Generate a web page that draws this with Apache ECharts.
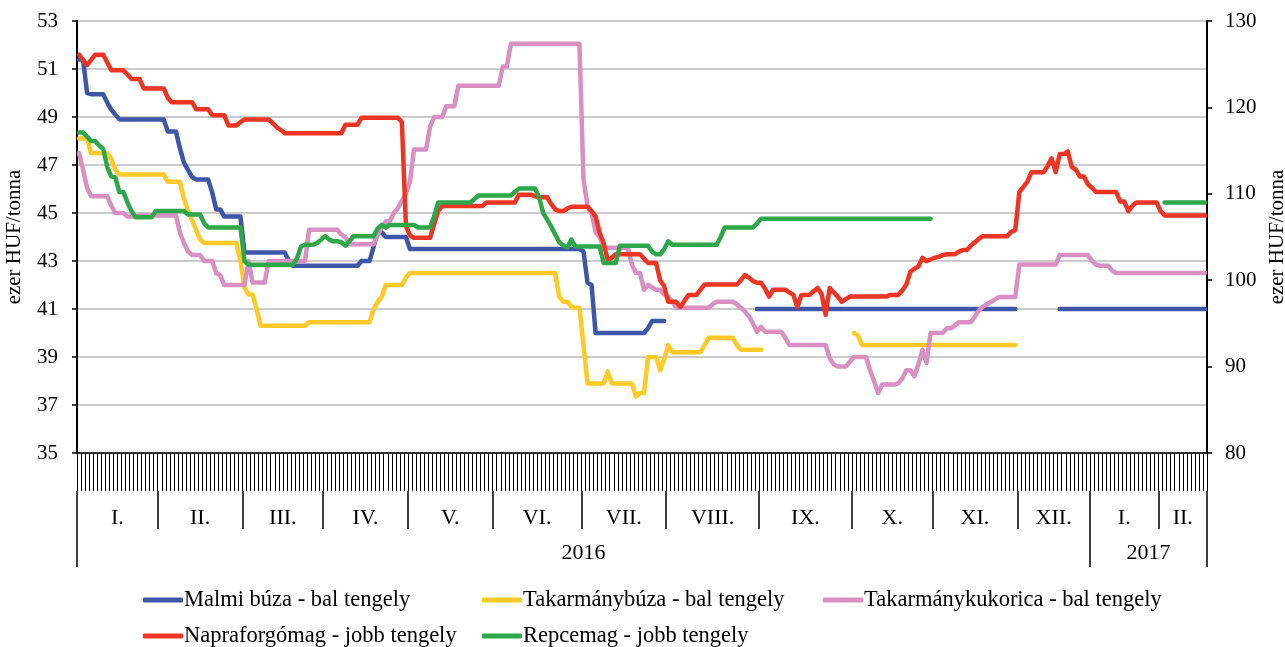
<!DOCTYPE html>
<html>
<head>
<meta charset="utf-8">
<script src="https://cdn.jsdelivr.net/npm/echarts@6/dist/echarts.min.js"></script>
<style>
  html, body { margin: 0; padding: 0; background: #fff; }
  #chart { width: 1285px; height: 647px; }
</style>
</head>
<body>
<div id="chart"></div>
<script>
// trading days per month, Jan 2016 .. Feb 2017
const monthNames = ['I.', 'II.', 'III.', 'IV.', 'V.', 'VI.', 'VII.', 'VIII.', 'IX.', 'X.', 'XI.', 'XII.', 'I.', 'II.'];
const monthDays = [20, 21, 20, 21, 21, 22, 21, 23, 23, 20, 21, 18, 17, 12];
const yearNames = ['2016', '2017'];
const yearMonths = [12, 2];

const leftTicks = { min: 35, max: 53, step: 2 };
const rightTicks = { min: 80, max: 130, step: 10 };

// ezer HUF/tonna, bal tengely
const malmiBuza = [
    51.4, 51.4, 50.0, 49.95, 49.95, 49.95, 49.95, 49.6, 49.3, 49.1, 48.9, 48.9, 48.9, 48.9, 48.9, 48.9, 48.9, 48.9, 48.9, 48.9,
    48.9, 48.9, 48.4, 48.4, 48.4, 47.7, 47.1, 46.8, 46.5, 46.4, 46.4, 46.4, 46.4, 45.85, 45.15, 45.15, 44.85, 44.85, 44.85, 44.85, 44.85,
    43.35, 43.35, 43.35, 43.35, 43.35, 43.35, 43.35, 43.35, 43.35, 43.35, 43.35, 43.0, 42.8, 42.8, 42.8, 42.8, 42.8, 42.8, 42.8, 42.8,
    42.8, 42.8, 42.8, 42.8, 42.8, 42.8, 42.8, 42.8, 42.8, 43.0, 43.0, 43.0, 43.6, 44.2, 44.2, 44.0, 44.0, 44.0, 44.0, 44.0, 44.0,
    43.5, 43.5, 43.5, 43.5, 43.5, 43.5, 43.5, 43.5, 43.5, 43.5, 43.5, 43.5, 43.5, 43.5, 43.5, 43.5, 43.5, 43.5, 43.5, 43.5, 43.5,
    43.5, 43.5, 43.5, 43.5, 43.5, 43.5, 43.5, 43.5, 43.5, 43.5, 43.5, 43.5, 43.5, 43.5, 43.5, 43.5, 43.5, 43.5, 43.5, 43.5, 43.5, 43.5,
    43.4, 42.1, 42.0, 40.0, 40.0, 40.0, 40.0, 40.0, 40.0, 40.0, 40.0, 40.0, 40.0, 40.0, 40.0, 40.0, 40.2, 40.5, 40.5, 40.5, 40.5,
    null, null, null, null, null, null, null, null, null, null, null, null, null, null, null, null, null, null, null, null, null, null, 41.0,
    41.0, 41.0, 41.0, 41.0, 41.0, 41.0, 41.0, 41.0, 41.0, 41.0, 41.0, 41.0, 41.0, 41.0, 41.0, 41.0, 41.0, 41.0, 41.0, 41.0, 41.0, 41.0, 41.0,
    41.0, 41.0, 41.0, 41.0, 41.0, 41.0, 41.0, 41.0, 41.0, 41.0, 41.0, 41.0, 41.0, 41.0, 41.0, 41.0, 41.0, 41.0, 41.0, 41.0,
    41.0, 41.0, 41.0, 41.0, 41.0, 41.0, 41.0, 41.0, 41.0, 41.0, 41.0, 41.0, 41.0, 41.0, 41.0, 41.0, 41.0, 41.0, 41.0, 41.0, 41.0,
    null, null, null, null, null, null, null, null, null, null, 41.0, 41.0, 41.0, 41.0, 41.0, 41.0, 41.0, 41.0,
    41.0, 41.0, 41.0, 41.0, 41.0, 41.0, 41.0, 41.0, 41.0, 41.0, 41.0, 41.0, 41.0, 41.0, 41.0, 41.0, 41.0,
    41.0, 41.0, 41.0, 41.0, 41.0, 41.0, 41.0, 41.0, 41.0, 41.0, 41.0, 41.0
];
const takarmanyBuza = [
    48.1, 48.1, 48.1, 47.5, 47.5, 47.5, 47.5, 47.5, 47.25, 46.8, 46.6, 46.6, 46.6, 46.6, 46.6, 46.6, 46.6, 46.6, 46.6, 46.6,
    46.6, 46.6, 46.3, 46.3, 46.3, 46.3, 45.6, 45.1, 44.7, 44.3, 43.9, 43.75, 43.75, 43.75, 43.75, 43.75, 43.75, 43.75, 43.75, 43.75, 43.0,
    41.9, 41.6, 41.6, 41.0, 40.3, 40.3, 40.3, 40.3, 40.3, 40.3, 40.3, 40.3, 40.3, 40.3, 40.3, 40.3, 40.45, 40.45, 40.45, 40.45,
    40.45, 40.45, 40.45, 40.45, 40.45, 40.45, 40.45, 40.45, 40.45, 40.45, 40.45, 40.45, 41.0, 41.3, 41.5, 42.0, 42.0, 42.0, 42.0, 42.0, 42.3,
    42.5, 42.5, 42.5, 42.5, 42.5, 42.5, 42.5, 42.5, 42.5, 42.5, 42.5, 42.5, 42.5, 42.5, 42.5, 42.5, 42.5, 42.5, 42.5, 42.5, 42.5,
    42.5, 42.5, 42.5, 42.5, 42.5, 42.5, 42.5, 42.5, 42.5, 42.5, 42.5, 42.5, 42.5, 42.5, 42.5, 42.5, 41.5, 41.3, 41.3, 41.1, 41.05, 41.05,
    39.5, 37.9, 37.9, 37.9, 37.9, 37.9, 38.4, 37.9, 37.9, 37.9, 37.9, 37.9, 37.9, 37.35, 37.5, 37.5, 39.0, 39.0, 39.0, 38.45, 38.9,
    39.5, 39.2, 39.2, 39.2, 39.2, 39.2, 39.2, 39.2, 39.2, 39.5, 39.8, 39.8, 39.8, 39.8, 39.8, 39.8, 39.8, 39.5, 39.3, 39.3, 39.3, 39.3, 39.3,
    39.3, null, null, null, null, null, null, null, null, null, null, null, null, null, null, null, null, null, null, null, null, null, null,
    40.0, 39.9, 39.5, 39.5, 39.5, 39.5, 39.5, 39.5, 39.5, 39.5, 39.5, 39.5, 39.5, 39.5, 39.5, 39.5, 39.5, 39.5, 39.5, 39.5,
    39.5, 39.5, 39.5, 39.5, 39.5, 39.5, 39.5, 39.5, 39.5, 39.5, 39.5, 39.5, 39.5, 39.5, 39.5, 39.5, 39.5, 39.5, 39.5, 39.5, 39.5,
    null, null, null, null, null, null, null, null, null, null, null, null, null, null, null, null, null, null,
    null, null, null, null, null, null, null, null, null, null, null, null, null, null, null, null, null,
    null, null, null, null, null, null, null, null, null, null, null, null
];
const takarmanyKukorica = [
    47.5, 46.8, 46.05, 45.7, 45.7, 45.7, 45.7, 45.7, 45.3, 45.0, 45.0, 45.0, 44.85, 44.85, 44.85, 44.9, 44.9, 44.9, 44.9, 44.9,
    44.9, 44.9, 44.9, 44.9, 44.9, 44.2, 43.75, 43.4, 43.25, 43.25, 43.25, 43.0, 43.0, 43.0, 42.5, 42.4, 42.0, 42.0, 42.0, 42.0, 42.0,
    42.0, 43.0, 42.1, 42.1, 42.1, 42.1, 43.0, 43.0, 43.0, 43.0, 43.0, 43.0, 43.0, 43.0, 43.0, 43.0, 44.3, 44.3, 44.3, 44.3,
    44.3, 44.3, 44.3, 44.3, 44.1, 44.0, 43.7, 43.7, 43.7, 43.7, 43.7, 43.7, 43.7, 44.1, 44.4, 44.65, 44.65, 45.0, 45.2, 45.5, 45.8,
    46.3, 47.65, 47.65, 47.65, 47.65, 48.6, 49.0, 49.0, 49.0, 49.45, 49.45, 49.45, 50.3, 50.3, 50.3, 50.3, 50.3, 50.3, 50.3, 50.3, 50.3,
    50.3, 50.3, 51.1, 51.1, 52.05, 52.05, 52.05, 52.05, 52.05, 52.05, 52.05, 52.05, 52.05, 52.05, 52.05, 52.05, 52.05, 52.05, 52.05, 52.05, 52.05, 52.05,
    46.4, 45.3, 45.0, 44.2, 44.0, 43.55, 43.55, 43.55, 43.55, 43.55, 43.55, 43.55, 42.85, 42.5, 42.5, 41.8, 42.0, 41.9, 41.8, 41.8, 41.6,
    41.5, 41.3, 41.05, 41.05, 41.05, 41.05, 41.05, 41.05, 41.05, 41.05, 41.05, 41.2, 41.3, 41.3, 41.3, 41.3, 41.3, 41.2, 41.05, 40.9, 40.7, 40.4, 40.05,
    40.25, 40.05, 40.05, 40.05, 40.05, 40.05, 39.8, 39.5, 39.5, 39.5, 39.5, 39.5, 39.5, 39.5, 39.5, 39.5, 39.5, 38.95, 38.7, 38.6, 38.6, 38.6, 38.8,
    39.0, 39.0, 39.0, 39.0, 38.45, 38.0, 37.5, 37.85, 37.85, 37.85, 37.85, 37.9, 38.1, 38.45, 38.45, 38.2, 38.7, 39.3, 38.75, 40.0,
    40.0, 40.0, 40.0, 40.2, 40.2, 40.3, 40.45, 40.45, 40.45, 40.45, 40.7, 40.95, 41.1, 41.2, 41.3, 41.4, 41.5, 41.5, 41.5, 41.5, 41.5,
    42.85, 42.85, 42.85, 42.85, 42.85, 42.85, 42.85, 42.85, 42.85, 42.85, 43.25, 43.25, 43.25, 43.25, 43.25, 43.25, 43.25, 43.25,
    43.0, 42.85, 42.8, 42.8, 42.8, 42.6, 42.5, 42.5, 42.5, 42.5, 42.5, 42.5, 42.5, 42.5, 42.5, 42.5, 42.5,
    42.5, 42.5, 42.5, 42.5, 42.5, 42.5, 42.5, 42.5, 42.5, 42.5, 42.5, 42.5
];
// ezer HUF/tonna, jobb tengely
const napraforgomag = [
    126.1, 125.5, 124.9, 125.5, 126.1, 126.1, 126.1, 125.2, 124.3, 124.3, 124.3, 124.3, 123.8, 123.3, 123.3, 123.3, 122.2, 122.2, 122.2, 122.2,
    122.2, 122.2, 121.1, 120.6, 120.6, 120.6, 120.6, 120.6, 120.6, 119.8, 119.8, 119.8, 119.8, 119.1, 119.1, 119.1, 119.1, 117.9, 117.9, 117.9, 118.3,
    118.6, 118.6, 118.6, 118.6, 118.6, 118.6, 118.6, 118.2, 117.7, 117.4, 117.0, 117.0, 117.0, 117.0, 117.0, 117.0, 117.0, 117.0, 117.0, 117.0,
    117.0, 117.0, 117.0, 117.0, 117.0, 118.0, 118.0, 118.0, 118.0, 118.8, 118.8, 118.8, 118.8, 118.8, 118.8, 118.8, 118.8, 118.8, 118.8, 118.3, 106.3,
    105.2, 104.9, 104.9, 104.9, 104.9, 104.9, 106.5, 108.0, 108.6, 108.6, 108.6, 108.6, 108.6, 108.6, 108.6, 108.6, 108.6, 108.6, 108.6, 109.0, 109.0,
    109.0, 109.0, 109.0, 109.0, 109.0, 109.0, 109.9, 109.9, 109.9, 109.9, 109.7, 109.6, 109.6, 109.6, 108.8, 108.2, 108.0, 108.0, 108.3, 108.5, 108.5, 108.5,
    108.5, 108.5, 108.0, 107.4, 105.5, 104.3, 102.3, 102.6, 103.0, 103.0, 103.0, 103.0, 103.0, 103.0, 103.0, 102.5, 102.0, 102.0, 102.0, 100.0, 99.3,
    97.5, 97.5, 97.5, 96.9, 97.6, 98.3, 98.3, 98.3, 98.9, 99.5, 99.5, 99.5, 99.5, 99.5, 99.5, 99.5, 99.5, 99.5, 100.0, 100.6, 100.3, 99.9, 99.7,
    99.7, 99.0, 98.1, 98.9, 98.9, 98.9, 98.9, 98.6, 98.3, 96.9, 98.3, 98.3, 98.3, 98.7, 99.1, 98.4, 96.0, 99.1, 98.6, 98.1, 97.5, 97.8, 98.1,
    98.1, 98.1, 98.1, 98.1, 98.1, 98.1, 98.1, 98.1, 98.1, 98.3, 98.3, 98.3, 98.8, 99.5, 101.0, 101.3, 101.6, 102.6, 102.2, 102.4,
    102.6, 102.7, 102.9, 103.0, 103.0, 103.0, 103.3, 103.5, 103.5, 104.0, 104.4, 104.8, 105.1, 105.1, 105.1, 105.1, 105.1, 105.1, 105.1, 105.6, 105.8,
    110.2, 110.8, 111.4, 112.5, 112.5, 112.5, 112.5, 113.2, 114.1, 112.5, 114.6, 114.6, 114.9, 113.1, 112.8, 112.0, 112.0, 111.1,
    110.7, 110.2, 110.2, 110.2, 110.2, 110.2, 110.2, 109.1, 109.1, 108.0, 108.6, 109.0, 109.0, 109.0, 109.0, 109.0, 109.0,
    108.0, 107.5, 107.5, 107.5, 107.5, 107.5, 107.5, 107.5, 107.5, 107.5, 107.5, 107.5
];
const repcemag = [
    117.1, 117.1, 116.6, 116.1, 116.1, 115.6, 115.2, 113.1, 112.0, 111.9, 110.2, 110.2, 109.0, 108.0, 107.3, 107.3, 107.3, 107.3, 107.3, 108.0,
    108.0, 108.0, 108.0, 108.0, 108.0, 108.0, 108.0, 107.6, 107.6, 107.6, 107.6, 106.6, 106.1, 106.1, 106.1, 106.1, 106.1, 106.1, 106.1, 106.1, 106.1,
    102.2, 101.8, 101.8, 101.8, 101.8, 101.8, 101.8, 101.8, 101.8, 101.8, 101.8, 101.8, 101.8, 102.5, 103.9, 104.1, 104.1, 104.1, 104.3, 104.7,
    105.1, 104.7, 104.5, 104.5, 104.4, 104.0, 104.5, 105.1, 105.1, 105.1, 105.1, 105.1, 105.1, 106.0, 106.4, 106.1, 106.4, 106.4, 106.4, 106.4, 106.4,
    106.4, 106.4, 106.1, 106.1, 106.1, 106.1, 107.4, 109.0, 109.0, 109.0, 109.0, 109.0, 109.0, 109.0, 109.0, 109.0, 109.4, 109.8, 109.8, 109.8, 109.8,
    109.8, 109.8, 109.8, 109.8, 109.8, 110.2, 110.6, 110.6, 110.6, 110.6, 110.6, 109.6, 107.8, 107.0, 106.2, 105.3, 104.4, 104.0, 103.8, 104.7, 103.9, 103.9,
    103.9, 103.9, 103.9, 103.9, 103.9, 102.0, 102.0, 102.0, 102.0, 104.0, 104.0, 104.0, 104.0, 104.0, 104.0, 104.0, 104.0, 103.3, 103.0, 103.0, 103.6,
    104.5, 104.1, 104.1, 104.1, 104.1, 104.1, 104.1, 104.1, 104.1, 104.1, 104.1, 104.1, 104.1, 105.0, 106.1, 106.1, 106.1, 106.1, 106.1, 106.1, 106.1, 106.1, 106.6,
    107.1, 107.1, 107.1, 107.1, 107.1, 107.1, 107.1, 107.1, 107.1, 107.1, 107.1, 107.1, 107.1, 107.1, 107.1, 107.1, 107.1, 107.1, 107.1, 107.1, 107.1, 107.1, 107.1,
    107.1, 107.1, 107.1, 107.1, 107.1, 107.1, 107.1, 107.1, 107.1, 107.1, 107.1, 107.1, 107.1, 107.1, 107.1, 107.1, 107.1, 107.1, 107.1, 107.1,
    null, null, null, null, null, null, null, null, null, null, null, null, null, null, null, null, null, null, null, null, null,
    null, null, null, null, null, null, null, null, null, null, null, null, null, null, null, null, null, null,
    null, null, null, null, null, null, null, null, null, null, null, null, null, null, null, null, null,
    null, 109.0, 109.0, 109.0, 109.0, 109.0, 109.0, 109.0, 109.0, 109.0, 109.0, 109.0
];

/**
 * axis helpers
 */
const days = [];
const monthStarts = [0];
monthDays.forEach((n, m) => {
    for (let d = 1; d <= n; d++) days.push(m + '-' + d);
    monthStarts.push(monthStarts[m] + n);
});
const monthMids = monthNames.map((_, i) => (monthStarts[i] + monthStarts[i + 1]) / 2);
const yearStarts = [0];
yearMonths.forEach((n, i) => yearStarts.push(monthStarts[yearMonths.slice(0, i + 1).reduce((a, b) => a + b, 0)]));
const yearMids = yearNames.map((_, i) => (yearStarts[i] + yearStarts[i + 1]) / 2);

const FONT = 'Liberation Serif';
const black = '#000';

const levelAxis = (offset, ticks, mids, names, margin) => ({
    type: 'value',
    min: 0,
    max: days.length,
    position: 'bottom',
    offset: offset,
    axisLine: { show: false, onZero: false },
    splitLine: { show: false },
    axisTick: { show: true, length: 38, customValues: ticks, lineStyle: { color: black, width: 1.5 } },
    axisLabel: {
        customValues: mids,
        margin: margin,
        color: black,
        fontFamily: FONT,
        fontSize: 22,
        formatter: (v) => names[mids.indexOf(v)] || '',
    },
});

const lineSeries = (name, data, color, yAxisIndex) => ({
    name,
    type: 'line',
    data,
    yAxisIndex,
    showSymbol: false,
    connectNulls: false,
    lineStyle: { color, width: 4.5, cap: 'round', join: 'round' },
    itemStyle: { color },
});

const legendBase = {
    orient: 'vertical',
    top: 588,
    height: 80,
    padding: 0,
    itemWidth: 40,
    itemHeight: 5,
    itemGap: 12,
    icon: 'roundRect',
    textStyle: { color: black, fontFamily: FONT, fontSize: 22.5, lineHeight: 24, padding: [0, 0, 0, -4] },
};

const option = {
    animation: false,
    backgroundColor: '#fff',
    grid: { left: 77, right: 78, top: 21, bottom: 194, outerBoundsMode: 'none', containLabel: false },
    xAxis: [
        {
            type: 'category',
            data: days,
            boundaryGap: true,
            axisLine: { onZero: false, lineStyle: { color: black, width: 1.5 } },
            axisTick: { show: true, interval: 0, length: 38, lineStyle: { color: black, width: 1 } },
            axisLabel: { show: false },
            splitLine: { show: false },
        },
        levelAxis(38, monthStarts, monthMids, monthNames, 16),
        levelAxis(76, yearStarts, yearMids, yearNames, 13),
    ],
    yAxis: [
        {
            type: 'value',
            min: leftTicks.min,
            max: leftTicks.max,
            interval: leftTicks.step,
            position: 'left',
            name: 'ezer HUF/tonna',
            nameLocation: 'middle',
            nameRotate: 90,
            nameGap: 52,
            nameTextStyle: { color: black, fontFamily: FONT, fontSize: 21 },
            axisLine: { show: true, onZero: false, lineStyle: { color: black, width: 2 } },
            axisTick: { show: true, length: 5, lineStyle: { color: black, width: 1.5 } },
            axisLabel: { color: black, fontFamily: FONT, fontSize: 21, margin: 19 },
            splitLine: { show: true, lineStyle: { color: '#cbcbcb', width: 2 } },
        },
        {
            type: 'value',
            min: rightTicks.min,
            max: rightTicks.max,
            interval: rightTicks.step,
            position: 'right',
            name: 'ezer HUF/tonna',
            nameLocation: 'middle',
            nameRotate: 90,
            nameGap: 60,
            nameTextStyle: { color: black, fontFamily: FONT, fontSize: 21 },
            axisLine: { show: true, onZero: false, lineStyle: { color: black, width: 2 } },
            axisTick: { show: true, length: 5, lineStyle: { color: black, width: 1.5 } },
            axisLabel: { color: black, fontFamily: FONT, fontSize: 21, margin: 18 },
            splitLine: { show: false },
        },
    ],
    legend: [
        { ...legendBase, left: 143, data: ['Malmi búza - bal tengely', 'Napraforgómag - jobb tengely'] },
        { ...legendBase, left: 482, data: ['Takarmánybúza - bal tengely', 'Repcemag - jobb tengely'] },
        { ...legendBase, left: 823, data: ['Takarmánykukorica - bal tengely'] },
    ],
    series: [
        lineSeries('Malmi búza - bal tengely', malmiBuza, '#3D56A6', 0),
        lineSeries('Takarmánybúza - bal tengely', takarmanyBuza, '#FFC926', 0),
        lineSeries('Takarmánykukorica - bal tengely', takarmanyKukorica, '#D88FC2', 0),
        lineSeries('Napraforgómag - jobb tengely', napraforgomag, '#EE3524', 1),
        lineSeries('Repcemag - jobb tengely', repcemag, '#2EA64A', 1),
    ],
};

const myChart = echarts.init(document.getElementById('chart'));
myChart.setOption(option);
</script>
</body>
</html>
